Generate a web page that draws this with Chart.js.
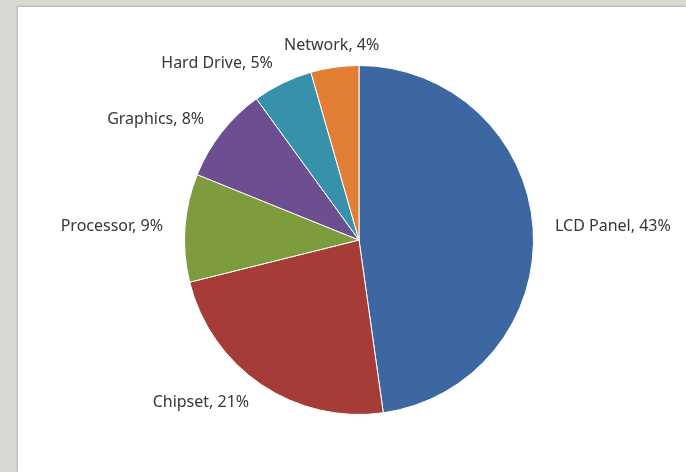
<!DOCTYPE html>
<html>
<head>
<meta charset="utf-8">
<script src="https://cdn.jsdelivr.net/npm/chart.js@4"></script>
<style>
  html, body { margin: 0; padding: 0; }
  body {
    width: 686px; height: 472px; overflow: hidden;
    background: #d9d9d4;
    position: relative;
  }
  #panel {
    position: absolute; left: 18px; top: 7px; right: 0; bottom: 0;
    background: #ffffff;
    box-shadow: -1px -1px 2px rgba(0,0,0,0.18);
  }
  #chart { position: absolute; left: 0; top: 0; }
</style>
</head>
<body>
<div id="panel"></div>
<canvas id="chart" width="686" height="472"></canvas>
<script>
// categories, clockwise from 12 o'clock
var categories = ['LCD Panel', 'Chipset', 'Processor', 'Graphics', 'Hard Drive', 'Network'];
// percentages shown in the data labels (the slices are drawn from these too)
var percents = [43, 21, 9, 8, 5, 4];
var sliceColors = ['#3c67a0', '#a53c37', '#7e9b3e', '#6c4e91', '#3891aa', '#e17e33'];

// draws "Name, xx%" outside the pie, like the excel labels
var outsideLabels = {
    id: 'outsideLabels',
    afterDatasetsDraw: function(chart){
        var ctx = chart.ctx;
        var arcs = chart.getDatasetMeta(0).data;
        ctx.save();
        ctx.font = '16px "Noto Sans", "Liberation Sans", sans-serif';
        ctx.fillStyle = '#363636';
        ctx.textBaseline = 'middle';
        for(var i = 0; i < arcs.length; i++){
            var arc = arcs[i];
            var mid = (arc.startAngle + arc.endAngle) / 2;
            var dist = arc.outerRadius + 22;
            var x = arc.x + Math.cos(mid) * dist;
            var y = arc.y + Math.sin(mid) * dist;
            var c = Math.cos(mid);
            if(c > 0.2) ctx.textAlign = 'left';
            else if(c < -0.2) ctx.textAlign = 'right';
            else ctx.textAlign = 'center';
            ctx.fillText(categories[i] + ', ' + percents[i] + '%', x, y);
        }
        ctx.restore();
    }
};

new Chart(document.getElementById('chart'), {
    type: 'pie',
    data: {
        labels: categories,
        datasets: [{
            data: percents,
            backgroundColor: sliceColors,
            borderColor: '#ffffff',
            borderWidth: 1
        }]
    },
    options: {
        responsive: false,
        animation: false,
        layout: { padding: { left: 184, right: 152, top: 65, bottom: 57 } },
        plugins: {
            legend: { display: false },
            tooltip: { enabled: false }
        }
    },
    plugins: [outsideLabels]
});
</script>
</body>
</html>
